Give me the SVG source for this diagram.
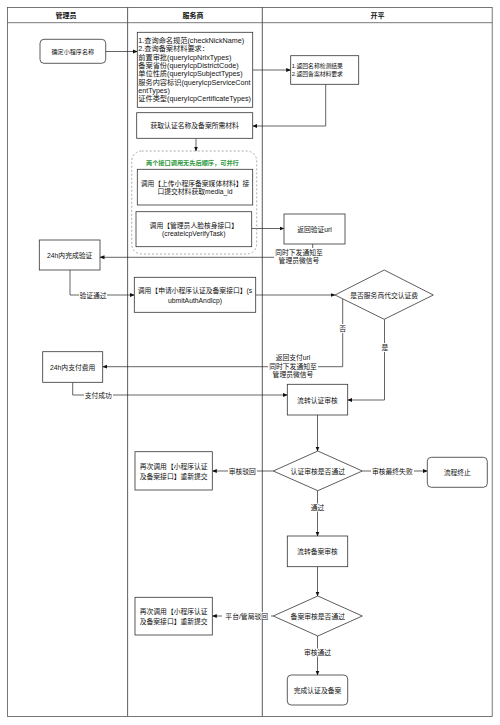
<svg xmlns="http://www.w3.org/2000/svg" width="500" height="725" viewBox="0 0 500 725">
<style>
text{font-family:"Liberation Sans","Noto Sans CJK SC",sans-serif;fill:#111;font-size:6.8px;}
.c{text-anchor:middle;dominant-baseline:central;}
.l{dominant-baseline:central;}
.h{font-weight:bold;font-size:7px;}
.n{fill:#fff;stroke:#333;stroke-width:0.8;}
.lane{fill:#fff;stroke:#555;stroke-width:0.8;}
.e{fill:none;stroke:#222;stroke-width:0.7;}
.lb{fill:#fff;stroke:none;}
.g{fill:#2e9a3c;font-weight:bold;font-size:6.2px;}
.s{font-size:5.8px;}
.big{font-size:7.2px;}
</style>
<defs>
<marker id="a" viewBox="0 0 10 10" refX="9" refY="5" markerWidth="5" markerHeight="5" orient="auto" markerUnits="userSpaceOnUse">
<path d="M0,1 L10,5 L0,9 Z" fill="#111"/>
</marker>
</defs>
<rect x="0" y="0" width="500" height="725" fill="#fff"/>
<g id="lanes">
<rect class="lane" x="7.5" y="7.5" width="120.2" height="709"/>
<rect class="lane" x="127.7" y="7.5" width="134.6" height="709"/>
<rect class="lane" x="262.3" y="7.5" width="229.9" height="709"/>
<line x1="7.5" y1="22.7" x2="492.2" y2="22.7" stroke="#555" stroke-width="0.8"/>
<text class="c h" x="66" y="15">管理员</text>
<text class="c h" x="193" y="15">服务商</text>
<text class="c h" x="377.5" y="15">开平</text>
</g>
<g id="connectors">
<line class="e" x1="105.7" y1="51.5" x2="137.3" y2="51.5" marker-end="url(#a)"/>
<line class="e" x1="252.7" y1="70" x2="290.7" y2="70" marker-end="url(#a)"/>
<polyline class="e" points="325.7,84.3 325.7,126 252.7,126" marker-end="url(#a)"/>
<line class="e" x1="196" y1="138.3" x2="196" y2="151" marker-end="url(#a)"/>
<line class="e" x1="251.7" y1="228.5" x2="284" y2="228.5" marker-end="url(#a)"/>
<polyline class="e" points="312.7,244 312.7,257.3 100,257.3" marker-end="url(#a)"/>
<rect class="lb" x="274" y="248" width="50" height="17"/>
<text class="c" x="299" y="252.5">同时下发通知至</text>
<text class="c" x="299" y="260.5">管理员微信号</text>
<polyline class="e" points="70,270 70,295 134.3,295" marker-end="url(#a)"/>
<rect class="lb" x="79" y="291" width="28" height="8"/>
<text class="c" x="93" y="295">验证通过</text>
<line class="e" x1="255.7" y1="295" x2="335" y2="295" marker-end="url(#a)"/>
<polyline class="e" points="342.7,299 342.7,366.7 102.7,366.7" marker-end="url(#a)"/>
<rect class="lb" x="339" y="324" width="8" height="9"/>
<text class="c" x="342.7" y="328.5">否</text>
<rect class="lb" x="268" y="352" width="50" height="27"/>
<text class="c" x="293" y="357.5">返回支付url</text>
<text class="c" x="293" y="366">同时下发通知至</text>
<text class="c" x="293" y="374.5">管理员微信号</text>
<polyline class="e" points="384.5,319.3 384.5,400 347.7,400" marker-end="url(#a)"/>
<rect class="lb" x="381" y="343" width="8" height="9"/>
<text class="c" x="385" y="347.5">是</text>
<polyline class="e" points="72.7,382.3 72.7,395 287.3,395" marker-end="url(#a)"/>
<rect class="lb" x="84" y="391" width="29" height="8"/>
<text class="c" x="98.3" y="395">支付成功</text>
<line class="e" x1="317.5" y1="415" x2="317.5" y2="451" marker-end="url(#a)"/>
<line class="e" x1="273.3" y1="471" x2="212.3" y2="471" marker-end="url(#a)"/>
<rect class="lb" x="228" y="467" width="29" height="8"/>
<text class="c" x="242.3" y="471">审核驳回</text>
<line class="e" x1="362.3" y1="471" x2="427.3" y2="471" marker-end="url(#a)"/>
<rect class="lb" x="371" y="467" width="43" height="8"/>
<text class="c" x="392.3" y="471">审核最终失败</text>
<line class="e" x1="317.5" y1="490.7" x2="317.5" y2="536" marker-end="url(#a)"/>
<rect class="lb" x="310" y="503.5" width="15" height="8"/>
<text class="c" x="317.5" y="507.5">通过</text>
<line class="e" x1="317.5" y1="566.7" x2="317.5" y2="596" marker-end="url(#a)"/>
<line class="e" x1="273.3" y1="616" x2="212.3" y2="616" marker-end="url(#a)"/>
<rect class="lb" x="222" y="612" width="49" height="8"/>
<text class="c" x="246.7" y="616">平台/管局驳回</text>
<line class="e" x1="317.5" y1="636" x2="317.5" y2="675" marker-end="url(#a)"/>
<rect class="lb" x="302" y="648.5" width="31" height="8"/>
<text class="c" x="317.5" y="652.5">审核通过</text>
</g>
<g id="n1">
<rect class="n" x="40" y="39.3" width="65.7" height="24" rx="4"/>
<text class="c" x="72.8" y="51.3" style="font-size:6.1px">确定小程序名称</text>
</g>
<g id="n2">
<rect class="n" x="137.3" y="32.3" width="115.4" height="75"/>
<text class="l big" x="138.3" y="40.6">1.查询命名规范(checkNickName)</text>
<text class="l big" x="138.3" y="48.9">2.查询备案材料要求：</text>
<text class="l big" x="138.3" y="57.2">前置审批(queryIcpNrlxTypes)</text>
<text class="l big" x="138.3" y="65.5">备案省份(queryIcpDistrictCode)</text>
<text class="l big" x="138.3" y="73.8">单位性质(queryIcpSubjectTypes)</text>
<text class="l big" x="138.3" y="82.1">服务内容标识(queryIcpServiceCont</text>
<text class="l big" x="138.3" y="90.4">entTypes)</text>
<text class="l big" x="138.3" y="98.7">证件类型(queryIcpCertificateTypes)</text>
</g>
<g id="n3">
<rect class="n" x="290.7" y="55.7" width="68" height="28.6"/>
<text class="l s" x="291.7" y="65.7">1.返回名称检测结果</text>
<text class="l s" x="291.7" y="74.3">2.返回备案材料要求</text>
</g>
<g id="n4">
<rect class="n" x="136.7" y="112.7" width="116" height="25.6"/>
<text class="c" x="194.7" y="125.5">获取认证名称及备案所需材料</text>
</g>
<g id="grp">
<rect x="131.7" y="151" width="125" height="103" rx="10" fill="none" stroke="#888" stroke-width="0.7" stroke-dasharray="2,2"/>
<text class="l g" x="146" y="162.7">两个接口调用无先后顺序，可并行</text>
</g>
<g id="n5">
<rect class="n" x="137.3" y="169.3" width="115.4" height="35.7"/>
<text class="c" x="195" y="183.3">调用【上传小程序备案媒体材料】接</text>
<text class="c" x="195" y="191.8">口提交材料获取media_id</text>
</g>
<g id="n6">
<rect class="n" x="136" y="211.7" width="115.7" height="35"/>
<text class="c" x="193.8" y="225">调用【管理员人脸核身接口】</text>
<text class="c" x="193.8" y="233.5">(createIcpVerifyTask)</text>
</g>
<g id="n7">
<rect class="n" x="284" y="214" width="61" height="30"/>
<text class="c" x="314.5" y="229">返回验证url</text>
</g>
<g id="n8">
<rect class="n" x="39.3" y="240" width="60.7" height="30"/>
<text class="c" x="69.7" y="255">24h内完成验证</text>
</g>
<g id="n9">
<rect class="n" x="134.3" y="277.3" width="121.4" height="35"/>
<text class="c" x="195" y="290.7">调用【申请小程序认证及备案接口】(s</text>
<text class="c" x="195" y="300">ubmitAuthAndIcp)</text>
</g>
<g id="n10">
<polygon class="n" points="335,295 384.2,270 433.3,295 384.2,319.3"/>
<text class="c" x="384.2" y="295">是否服务商代交认证费</text>
</g>
<g id="n11">
<rect class="n" x="42.7" y="351.7" width="60" height="30.6"/>
<text class="c" x="72.7" y="367">24h内支付费用</text>
</g>
<g id="n12">
<rect class="n" x="287.3" y="384.3" width="60.4" height="30.7"/>
<text class="c" x="317.5" y="400">流转认证审核</text>
</g>
<g id="n13">
<polygon class="n" points="273.3,471 317.8,451 362.3,471 317.8,490.7"/>
<text class="c" x="317.8" y="471">认证审核是否通过</text>
</g>
<g id="n14">
<rect class="n" x="135" y="451.7" width="77.3" height="38.3"/>
<text class="c" x="173.7" y="466.5">再次调用【小程序认证</text>
<text class="c" x="173.7" y="476">及备案接口】重新提交</text>
</g>
<g id="n15">
<rect class="n" x="427.3" y="457.3" width="60" height="30" rx="4"/>
<text class="c" x="457.3" y="472.3">流程终止</text>
</g>
<g id="n16">
<rect class="n" x="287.3" y="536" width="60.4" height="30.7"/>
<text class="c" x="317.5" y="551.7">流转备案审核</text>
</g>
<g id="n17">
<polygon class="n" points="273.3,616 317.8,596 362.3,616 317.8,636"/>
<text class="c" x="317.8" y="616">备案审核是否通过</text>
</g>
<g id="n18">
<rect class="n" x="135" y="597.3" width="77.3" height="37.7"/>
<text class="c" x="173.7" y="611.7">再次调用【小程序认证</text>
<text class="c" x="173.7" y="621">及备案接口】重新提交</text>
</g>
<g id="n19">
<rect class="n" x="287.3" y="675" width="60.4" height="30" rx="4"/>
<text class="c" x="317.5" y="690">完成认证及备案</text>
</g>
</svg>
